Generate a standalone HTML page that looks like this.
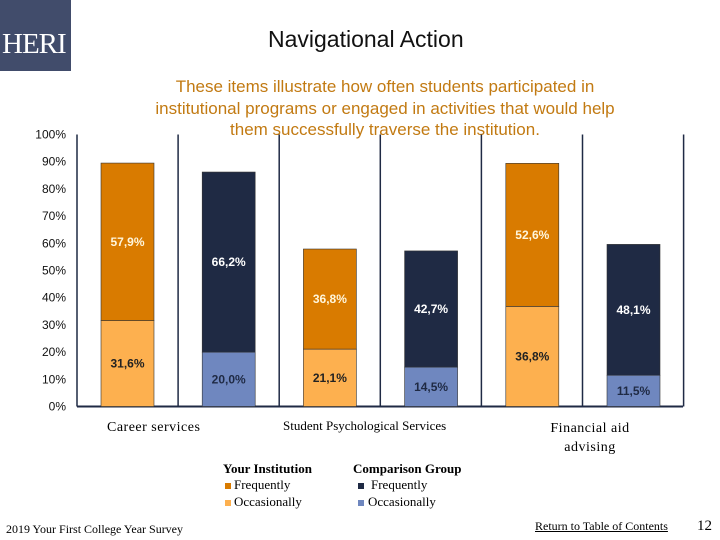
<!DOCTYPE html>
<html><head><meta charset="utf-8"><style>
body{margin:0;width:720px;height:540px;background:#fff;position:relative;overflow:hidden;font-family:"Liberation Sans",sans-serif}
.a{position:absolute;white-space:nowrap}
.serif{font-family:"Liberation Serif",serif}
</style></head><body>
<div class="a" style="left:0;top:0;width:71px;height:71px;background:#414c6b"></div>
<div class="a serif" style="left:2px;top:28px;font-size:29px;color:#fff;letter-spacing:-1px">HERI</div>
<div class="a" style="left:268px;top:26px;font-size:23px;color:#111">Navigational Action</div>
<div class="a" style="left:100px;top:76px;width:570px;text-align:center;font-size:17px;line-height:21.5px;color:#c27a12">These items illustrate how often students participated in<br>institutional programs or engaged in activities that would help<br>them successfully traverse the institution.</div>
<svg id="chart" class="a" style="left:0;top:0" width="720" height="540"></svg>
<div class="a serif" style="left:107px;top:420px;font-size:14px;letter-spacing:0.5px">Career services</div>
<div class="a serif" style="left:283px;top:418px;font-size:13px">Student Psychological Services</div>
<div class="a serif" style="left:530px;top:419px;width:120px;text-align:center;font-size:14px;line-height:19px;white-space:normal;letter-spacing:0.5px">Financial aid advising</div>
<div class="a serif" style="left:223px;top:461px;font-size:13px;font-weight:bold">Your Institution</div>
<div class="a serif" style="left:353px;top:461px;font-size:13px;font-weight:bold">Comparison Group</div>
<div class="a serif" style="left:225px;top:477px;font-size:13px"><span style="display:inline-block;width:6px;height:6px;background:#d97b00;margin-right:3px"></span>Frequently</div>
<div class="a serif" style="left:225px;top:494px;font-size:13px"><span style="display:inline-block;width:6px;height:6px;background:#fdb04f;margin-right:3px"></span>Occasionally</div>
<div class="a serif" style="left:358px;top:477px;font-size:13px"><span style="display:inline-block;width:6px;height:6px;background:#1f2a44;margin-right:7px"></span>Frequently</div>
<div class="a serif" style="left:358px;top:494px;font-size:13px"><span style="display:inline-block;width:6px;height:6px;background:#6f87bf;margin-right:4px"></span>Occasionally</div>
<div class="a serif" style="left:6px;top:522px;font-size:12px">2019 Your First College Year Survey</div>
<div class="a serif" style="left:535px;top:519px;font-size:12px;text-decoration:underline">Return to Table of Contents</div>
<div class="a serif" style="left:697px;top:518px;font-size:15px">12</div>
<script>
const categories=["Career services Inst","Career services Comp","Psych Inst","Psych Comp","Finaid Inst","Finaid Comp"];
const occasionally=[31.6,20.0,21.1,14.5,36.8,11.5];
const frequently=[57.9,66.2,36.8,42.7,52.6,48.1];
const isComparison=[false,true,false,true,false,true];
const yTicks=[0,10,20,30,40,50,60,70,80,90,100];
const svg=document.getElementById('chart');
const NS='http://www.w3.org/2000/svg';
const y0=406.5,pxPer=2.72;
function yScale(v){return y0-v*pxPer;}
function xScale(i){return 101+i*101.2;}
const bw=53;
function mk(t,a){const e=document.createElementNS(NS,t);for(const k in a)e.setAttribute(k,a[k]);svg.appendChild(e);return e;}
yTicks.forEach(t=>{
 const e=mk('text',{x:66,y:yScale(t)+4,'text-anchor':'end','font-size':12,'font-family':'Liberation Sans, sans-serif',fill:'#111'});
 e.textContent=t+'%';
 
 
});
for(let i=0;i<=6;i++){
 const x=77+i*101.1;
 const l=mk('line',{x1:x,x2:x,y1:y0-272,y2:y0,stroke:'#1f2a44','stroke-width':1.5});
 
 
}
const ax=mk('line',{x1:77,x2:683,y1:y0,y2:y0,stroke:'#1f2a44','stroke-width':2});


categories.forEach((c,i)=>{
 const x=xScale(i),comp=isComparison[i];
 const o=occasionally[i],f=frequently[i];
 const r1=mk('rect',{x:x,y:yScale(o),width:bw,height:o*pxPer,fill:comp?'#6f87bf':'#fdb04f',stroke:'#333','stroke-width':0.6});
 
 
 const r2=mk('rect',{x:x,y:yScale(o+f),width:bw,height:f*pxPer,fill:comp?'#1f2a44':'#d97b00',stroke:'#333','stroke-width':0.6});
 
 
 const t1=mk('text',{x:x+bw/2,y:yScale(o/2)+4,'text-anchor':'middle','font-size':12,'font-weight':'bold','font-family':'Liberation Sans, sans-serif',fill:comp?'#1f2a44':'#222'});
 t1.textContent=o.toFixed(1).replace('.',',')+'%';
 
 
 const t2=mk('text',{x:x+bw/2,y:yScale(o+f/2)+4,'text-anchor':'middle','font-size':12,'font-weight':'bold','font-family':'Liberation Sans, sans-serif',fill:comp?'#fff':'#fff6dc'});
 t2.textContent=f.toFixed(1).replace('.',',')+'%';
 
 
});
</script>
</body></html>
